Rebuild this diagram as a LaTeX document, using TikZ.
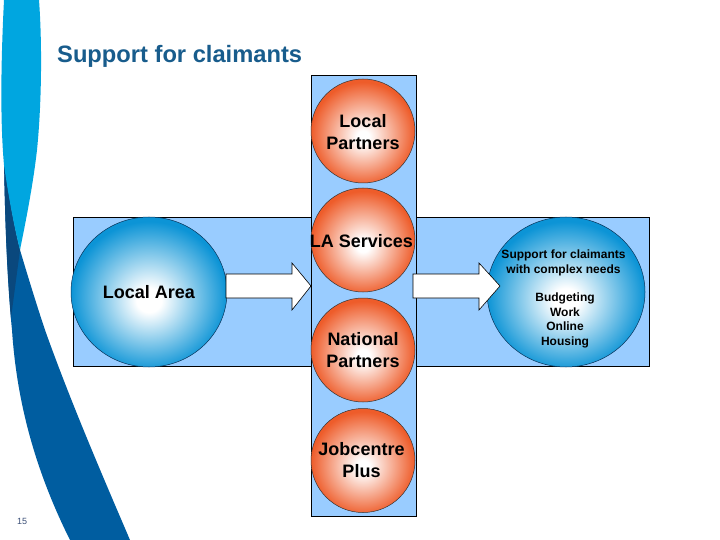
\documentclass[tikz,border=0pt]{standalone}
\usepackage{fontspec}
\setmainfont{Liberation Sans}
\definecolor{lightband}{RGB}{0,166,224}
\definecolor{midband}{RGB}{0,93,160}
\definecolor{navyband}{RGB}{10,72,125}
\definecolor{titleblue}{RGB}{24,92,140}
\definecolor{panelblue}{RGB}{153,204,255}
\definecolor{orangeC}{RGB}{238,92,42}
\definecolor{blueC}{RGB}{12,148,214}
\definecolor{pagenum}{RGB}{60,80,120}
\pgfdeclareradialshading{orangeball}{\pgfpoint{0bp}{-3bp}}{color(0bp)=(white); color(3bp)=(white); color(25bp)=(orangeC); color(50bp)=(orangeC)}
\pgfdeclareradialshading{blueball}{\pgfpoint{0bp}{-3bp}}{color(0bp)=(white); color(4bp)=(white); color(25bp)=(blueC); color(50bp)=(blueC)}
\tikzset{
  panel/.style={draw=black, line width=0.6pt, fill=panelblue},
  orangecirc/.style={circle, draw=black!80, line width=0.5pt, shading=orangeball, minimum size=104pt, inner sep=0pt},
  blueball/.style={ellipse, draw=navyband!70!black, line width=0.5pt, shading=blueball, inner sep=0pt},
  bigtext/.style={font=\bfseries\fontsize{18}{21.6}\selectfont, align=center, text=black},
  smalltext/.style={font=\bfseries\fontsize{12}{14.4}\selectfont, align=center, text=black},
  blockarrow/.style={draw=black, line width=0.6pt, fill=white}
}
\usetikzlibrary{shapes.geometric}
\begin{document}
\begin{tikzpicture}[x=1pt,y=-1pt]
\useasboundingbox (0,0) rectangle (720,540);
\fill[white] (0,0) rectangle (720,540);
% background ribbons
\fill[midband] (4,160) .. controls (5,220) and (7,280) .. (12,330)
  .. controls (16,390) and (30,460) .. (70,540)
  -- (130,540) .. controls (100,470) and (70,400) .. (45,330)
  .. controls (35,300) and (26,270) .. (20,250)
  .. controls (15,230) and (9,200) .. (4,160) -- cycle;
\fill[navyband] (4,160) .. controls (5,220) and (7,270) .. (11,318)
  -- (20,250) .. controls (15,230) and (9,200) .. (4,160) -- cycle;
\fill[lightband] (4,0) .. controls (1,60) and (0,120) .. (4,165)
  .. controls (9,200) and (15,230) .. (20,250)
  .. controls (26,220) and (33,185) .. (37,150)
  .. controls (42,100) and (42,40) .. (39,0) -- cycle;
% title
\node[anchor=base west, font=\bfseries\fontsize{23.7}{28}\selectfont, text=titleblue, inner sep=0pt] (title) at (57,63) {Support for claimants};
\node[anchor=base west, font=\fontsize{9}{10}\selectfont, text=pagenum, inner sep=0pt] (pnum) at (17,524) {15};
% panels
\draw[panel] (73,217) rectangle (649,366);
\draw[panel] (311,75) rectangle (416,516);
% circles
\node[orangecirc] (lp) at (363,131) {};
\node[orangecirc] (la) at (363,240) {};
\node[orangecirc] (np) at (363,350) {};
\node[orangecirc] (jp) at (363,460.5) {};
\node[blueball, minimum width=156pt, minimum height=150pt] (area) at (149,292) {};
\node[blueball, minimum width=158pt, minimum height=150pt] (needs) at (566,292) {};
% arrows
\draw[blockarrow] (226,274) -- (292,274) -- (292,263) -- (311,286) -- (292,310) -- (292,298) -- (226,298) -- cycle;
\draw[blockarrow] (413,274) -- (479,274) -- (479,263) -- (500,286) -- (479,310) -- (479,298) -- (413,298) -- cycle;
% texts
\node[bigtext] (lpt) at (363,132) {Local\\Partners};
\node[bigtext] (lat) at (361.5,241) {LA Services};
\node[bigtext] (npt) at (363,350) {National\\Partners};
\node[bigtext] (jpt) at (361.5,460) {Jobcentre\\Plus};
\node[bigtext] (areat) at (149,292) {Local Area};
\node[smalltext] (needst) at (563.5,263) {Support for claimants\\with complex needs};
\node[smalltext] (listt) at (565,320.5) {Budgeting\\Work\\Online\\Housing};
\end{tikzpicture}
\end{document}
